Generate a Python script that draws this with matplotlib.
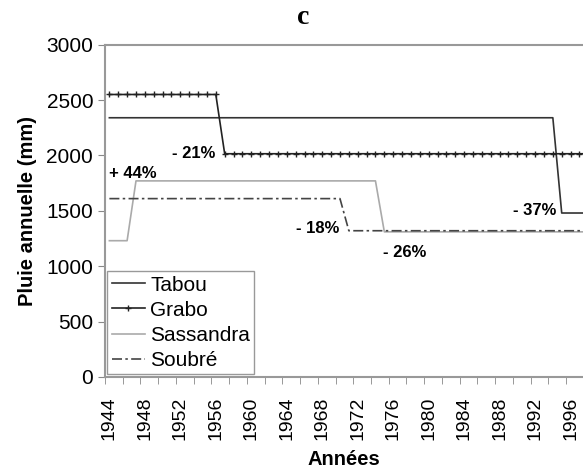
import numpy as np
import matplotlib.pyplot as plt
from matplotlib.ticker import FixedLocator

plt.rcParams['font.family'] = ['Liberation Sans', 'DejaVu Sans']

years = np.arange(1944, 1999)

# mean annual rainfall per sub-period (mm)
tabou = np.where(years <= 1994, 2340, 1480)
grabo = np.where(years <= 1956, 2550, 2015)
sassandra = np.where(years <= 1946, 1230, np.where(years <= 1974, 1770, 1310))
soubre = np.where(years <= 1970, 1610, 1320)

labels = ['- 21%', '+ 44%', '- 18%', '- 37%', '- 26%']
label_xy = [(1956.0, 2015), (1944.0, 1840), (1969.9, 1340), (1994.4, 1500), (1974.8, 1120)]
label_ha = ['right', 'left', 'right', 'right', 'left']

#-----------------------------------------------------------------------------------------

fig = plt.figure(figsize=(5.83, 4.70), dpi=100)
ax = fig.add_axes([0.180, 0.198, 0.820, 0.707])

ax.plot(years, tabou, color='#333333', lw=1.2, label='Tabou')
ax.plot(years, grabo, color='#222222', lw=1.2, marker='+', ms=5, mew=1.0, label='Grabo')
ax.plot(years, sassandra, color='#aaaaaa', lw=1.2, label='Sassandra')
ax.plot(years, soubre, color='#444444', lw=1.2, ls=(0, (6, 2, 1.5, 2)), label='Soubré')

for txt, (x, y), ha in zip(labels, label_xy, label_ha):
    ax.text(x, y, txt, ha=ha, va='center', fontsize=12, fontweight='bold')

ax.set_xlim(1943.5, 1997.4)
ax.set_ylim(0, 3000)
ax.set_yticks(np.arange(0, 3001, 500))
ax.set_xticks(np.arange(1944, 1997, 4))
ax.xaxis.set_minor_locator(FixedLocator(np.arange(1943.5, 1998, 2)))
ax.tick_params(axis='x', which='major', length=0, rotation=90, labelsize=14, pad=14)
ax.tick_params(axis='x', which='minor', length=5, color='#888888')
ax.tick_params(axis='y', length=5, color='#888888', labelsize=15)

for s in ['left', 'top', 'bottom']:
    ax.spines[s].set_color('#999999')
    ax.spines[s].set_linewidth(1.5)
ax.spines['right'].set_visible(False)

ax.set_ylabel('Pluie annuelle (mm)', fontsize=14.5, fontweight='bold', labelpad=7)
ax.set_xlabel('Années', fontsize=14.5, fontweight='bold', labelpad=7)

leg = ax.legend(loc='lower left', fontsize=15, fancybox=False, framealpha=1,
                edgecolor='#999999', borderaxespad=0.12, handlelength=1.6,
                handletextpad=0.25, labelspacing=0.3, borderpad=0.2)

fig.text(0.52, 0.962, 'c', ha='center', va='center', fontsize=20, fontweight='bold',
         family=['Liberation Serif', 'DejaVu Serif'])

fig.savefig('out.png', dpi=100)
